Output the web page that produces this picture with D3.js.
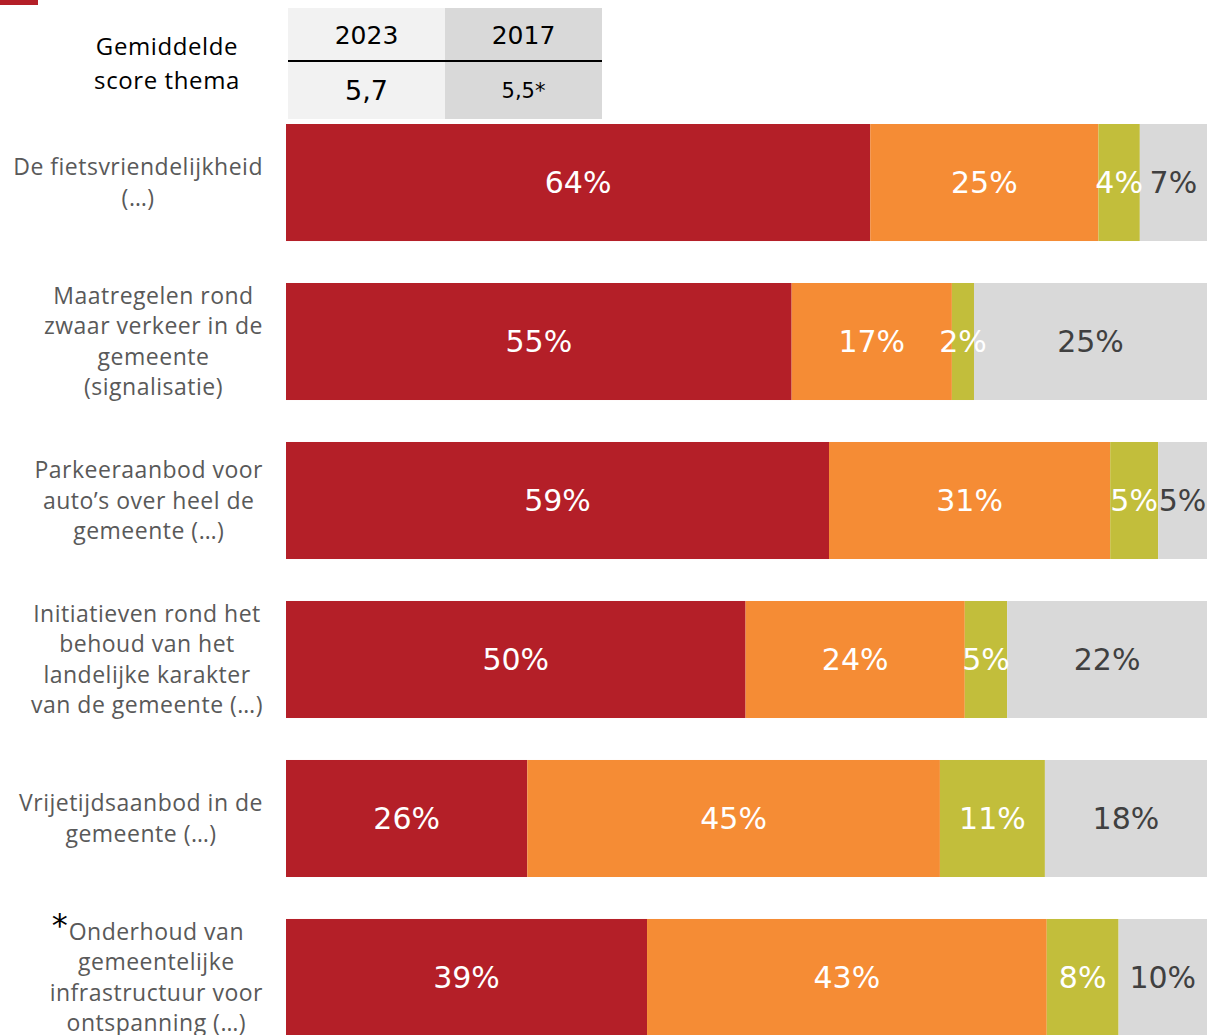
<!DOCTYPE html>
<html>
<head>
<meta charset="utf-8">
<script src="https://cdn.jsdelivr.net/npm/d3@7"></script>
<style>
  body { margin: 0; background: #fff; }
  svg { display: block; }
</style>
</head>
<body>
<div id="chart"></div>
<script>
// categories (lines of the label), top to bottom
var categories = [
  ['De fietsvriendelijkheid', '(\u2026)'],
  ['Maatregelen rond', 'zwaar verkeer in de', 'gemeente', '(signalisatie)'],
  ['Parkeeraanbod voor', 'auto\u2019s over heel de', 'gemeente (\u2026)'],
  ['Initiatieven rond het', 'behoud van het', 'landelijke karakter', 'van de gemeente (\u2026)'],
  ['Vrijetijdsaanbod in de', 'gemeente (\u2026)'],
  ['Onderhoud van', 'gemeentelijke', 'infrastructuur voor', 'ontspanning (\u2026)']
];
var starred = [false, false, false, false, false, true];

// shares per segment, labels as printed
var redValues    = [63.5, 54.9, 58.9, 49.9, 26.2, 39.2];
var orangeValues = [24.8, 17.4, 30.5, 23.8, 44.8, 43.4];
var greenValues  = [4.5, 2.4, 5.2, 4.6, 11.4, 7.8];
var greyValues   = [7.3, 25.3, 5.3, 21.7, 17.6, 9.6];
var redLabels    = ['64%', '55%', '59%', '50%', '26%', '39%'];
var orangeLabels = ['25%', '17%', '31%', '24%', '45%', '43%'];
var greenLabels  = ['4%', '2%', '5%', '5%', '11%', '8%'];
var greyLabels   = ['7%', '25%', '5%', '22%', '18%', '10%'];

var headerYears  = ['2023', '2017'];
var headerScores = ['5,7', '5,5*'];

var colors = ['#b41f28', '#f58c35', '#c2be3b', '#d9d9d9'];
var textColors = ['#ffffff', '#ffffff', '#ffffff', '#404040'];

var width = 1224, height = 1035;
var svg = d3.select('#chart').append('svg')
  .attr('width', width)
  .attr('height', height);

// little red tab top-left
svg.append('rect')
  .attr('x', 0).attr('y', 0).attr('width', 38).attr('height', 5)
  .attr('fill', '#b41f28');

var labelFont = '"Open Sans", sans-serif';
var numberFont = '"DejaVu Sans", sans-serif';

// ---- header table
var hx = d3.scaleBand().domain(headerYears).range([288, 602]);
var header = svg.append('g');

header.selectAll('rect.col')
  .data(headerYears)
  .enter().append('rect')
  .attr('class', 'col')
  .attr('x', function (d) { return hx(d); })
  .attr('y', 8)
  .attr('width', hx.bandwidth())
  .attr('height', 111)
  .attr('fill', function (d, i) { return i === 0 ? '#f2f2f2' : '#d9d9d9'; });

header.append('line')
  .attr('x1', 288).attr('x2', 602)
  .attr('y1', 61).attr('y2', 61)
  .attr('stroke', '#000').attr('stroke-width', 2);

header.selectAll('text.year')
  .data(headerYears)
  .enter().append('text')
  .attr('class', 'year')
  .attr('x', function (d) { return hx(d) + hx.bandwidth() / 2; })
  .attr('y', 35)
  .attr('dy', '0.35em')
  .attr('text-anchor', 'middle')
  .style('font-family', numberFont)
  .style('font-size', '25px')
  .attr('fill', '#000')
  .text(function (d) { return d; });

header.selectAll('text.score')
  .data(headerScores)
  .enter().append('text')
  .attr('class', 'score')
  .attr('x', function (d, i) { return hx(headerYears[i]) + hx.bandwidth() / 2; })
  .attr('y', 91)
  .attr('dy', '0.35em')
  .attr('text-anchor', 'middle')
  .style('font-family', numberFont)
  .style('font-size', function (d, i) { return i === 0 ? '27px' : '21px'; })
  .attr('fill', '#000')
  .text(function (d) { return d; });

header.selectAll('text.title')
  .data(['Gemiddelde', 'score thema'])
  .enter().append('text')
  .attr('class', 'title')
  .attr('x', 167)
  .attr('y', function (d, i) { return 47 + i * 34; })
  .attr('dy', '0.35em')
  .attr('text-anchor', 'middle')
  .style('font-family', labelFont)
  .style('font-size', '24px')
  .style('letter-spacing', '0.6px')
  .attr('fill', '#000')
  .text(function (d) { return d; });

// ---- bars
var x = d3.scaleLinear().domain([0, 100]).range([286, 1207]);
var y = d3.scaleBand()
  .domain(d3.range(categories.length))
  .range([124, 1036])
  .paddingInner(0.264)
  .paddingOuter(0);

var rows = categories.map(function (c, i) {
  var vals = [redValues[i], orangeValues[i], greenValues[i], greyValues[i]];
  var labs = [redLabels[i], orangeLabels[i], greenLabels[i], greyLabels[i]];
  var total = d3.sum(vals), start = 0;
  return vals.map(function (v, k) {
    var seg = { row: i, k: k, x0: start / total * 100, x1: (start + v) / total * 100, label: labs[k] };
    start += v;
    return seg;
  });
});

var rowG = svg.selectAll('g.row')
  .data(rows)
  .enter().append('g')
  .attr('class', 'row')
  .attr('transform', function (d, i) { return 'translate(0,' + y(i) + ')'; });

rowG.selectAll('rect')
  .data(function (d) { return d; })
  .enter().append('rect')
  .attr('x', function (d) { return x(d.x0); })
  .attr('width', function (d) { return x(d.x1) - x(d.x0); })
  .attr('y', 0)
  .attr('height', y.bandwidth())
  .attr('fill', function (d) { return colors[d.k]; });

rowG.selectAll('text')
  .data(function (d) { return d; })
  .enter().append('text')
  .attr('x', function (d) { return (x(d.x0) + x(d.x1)) / 2; })
  .attr('y', y.bandwidth() / 2)
  .attr('dy', '0.36em')
  .attr('text-anchor', 'middle')
  .style('font-family', numberFont)
  .style('font-size', '30px')
  .attr('fill', function (d) { return textColors[d.k]; })
  .text(function (d) { return d.label; });

// ---- category labels: lines centred, block pushed against right edge
var labelRight = 263, lineH = 30.5;
categories.forEach(function (lines, i) {
  var g = svg.append('g');
  var cy = y(i) + y.bandwidth() / 2;
  var texts = g.selectAll('text')
    .data(lines)
    .enter().append('text')
    .attr('y', function (d, j) { return cy + (j - (lines.length - 1) / 2) * lineH; })
    .attr('dy', '0.35em')
    .attr('text-anchor', 'middle')
    .style('font-family', labelFont)
    .style('font-size', '23px')
    .style('letter-spacing', '0.5px')
    .attr('fill', '#595959')
    .text(function (d) { return d; });
  var maxW = d3.max(texts.nodes(), function (n) { return n.getComputedTextLength(); });
  texts.attr('x', labelRight - maxW / 2);
  if (starred[i]) {
    var first = texts.nodes()[0];
    var bb = first.getBBox();
    g.append('text')
      .attr('x', bb.x - 1)
      .attr('y', +d3.select(first).attr('y') + 4)
      .attr('text-anchor', 'end')
      .style('font-family', numberFont)
      .style('font-size', '32px')
      .attr('fill', '#000')
      .text('*');
  }
});
</script>
</body>
</html>
